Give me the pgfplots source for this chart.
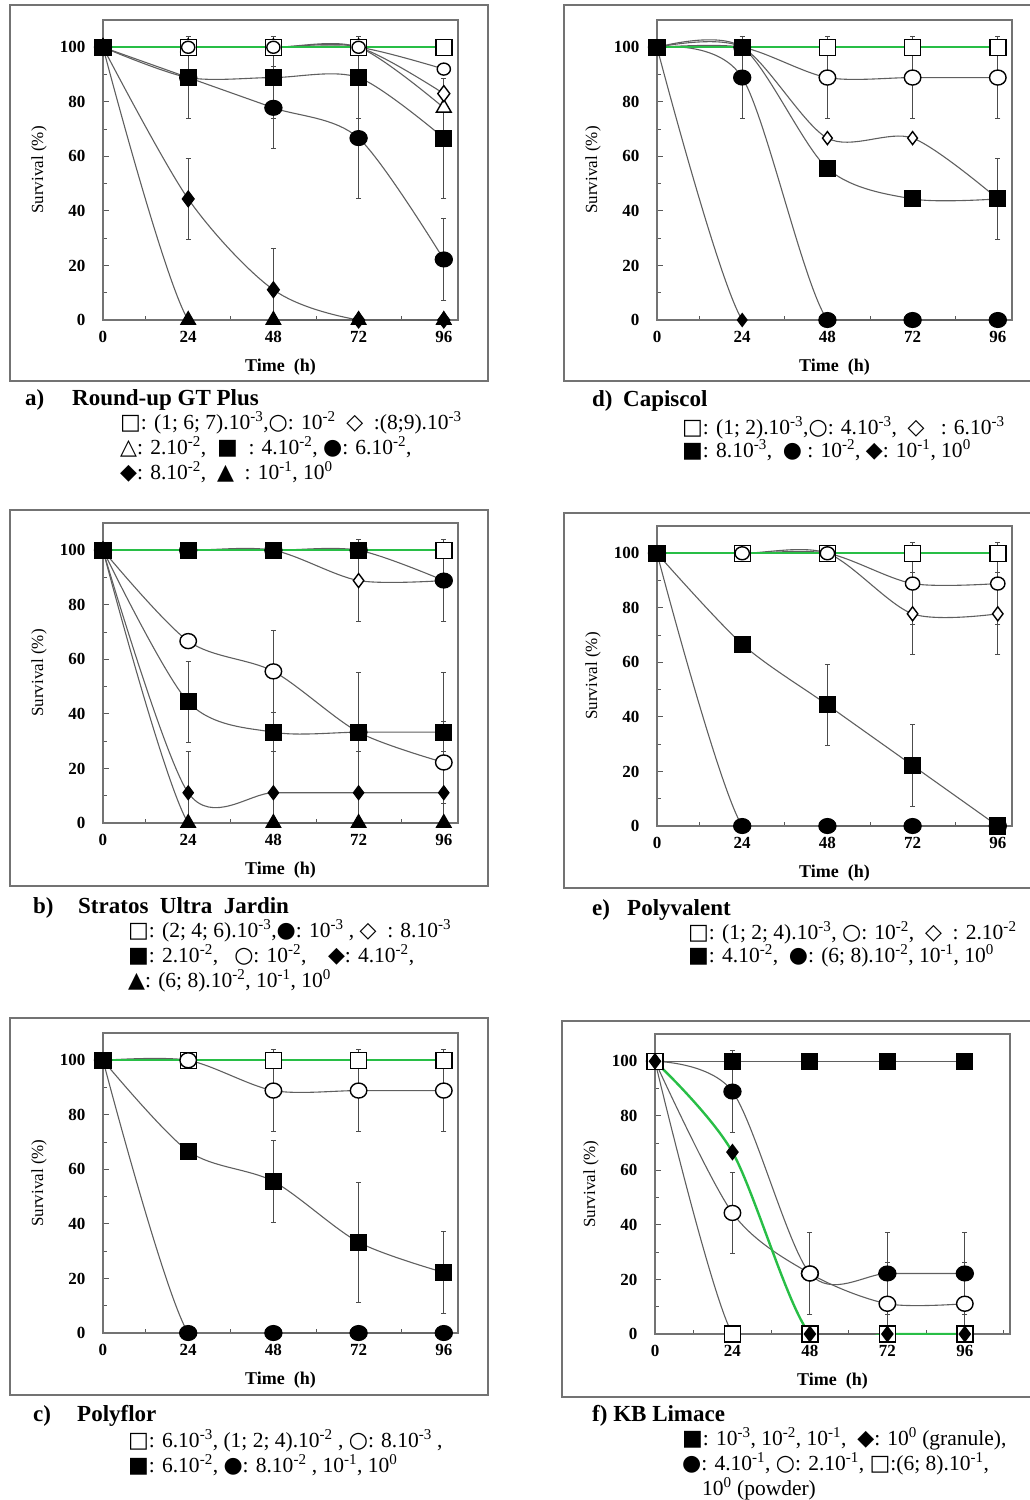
\documentclass[border=0pt]{standalone}
\usepackage{fontspec}
\setmainfont{Liberation Serif}
\newfontfamily\sym{DejaVu Sans}
\usepackage{pgfplots}
\pgfplotsset{compat=1.18}
\definecolor{grn}{RGB}{40,190,70}
\definecolor{ln}{RGB}{95,95,95}
\newcommand{\fs}[1]{\fontsize{#1}{#1}\selectfont}
\newcommand{\e}[1]{\textsuperscript{#1}}
\newcommand{\sy}[1]{{\fontsize{22}{22}\sym #1}}
\pgfplotsset{
 panel/.style={
  scale only axis, width=355pt, height=300pt,
  xmin=0, xmax=100, ymin=0, ymax=110,
  xtick={0,24,48,72,96}, ytick={0,20,40,60,80,100},
  minor xtick={12,36,60,84}, minor ytick={10,30,50,70,90},
  tick align=inside, tick pos=left,
  major tick length=6pt, minor tick length=4pt,
  tick style={black!65, line width=0.9pt},
  axis line style={black!55, line width=1.1pt},
  /pgf/number format/assume math mode=true,
  tick label style={font=\fs{17}\bfseries},
  yticklabel style={xshift=-14pt},
  xticklabel style={yshift=-8pt},
  xlabel={Time\ \ (h)},
  xlabel style={font=\fs{18}\bfseries, at={(axis description cs:0.5,-0.157)}, anchor=center},
  ylabel={Survival (\%)},
  ylabel style={font=\fs{17}, at={(axis description cs:-0.18,0.5)}, anchor=center},
  error bars/error bar style={black!70, line width=1pt},
  error bars/error mark options={rotate=90, mark size=2.5pt, black!70, line width=1pt},
 },
 s/.style={ln, line width=1.1pt, smooth, tension=0.5},
 eb/.style={error bars/.cd, y dir=both, y explicit},
 sqo/.style={s, mark=square*, mark size=8pt, mark options={fill=white, draw=black, line width=1.4pt}},
 sqf/.style={s, mark=square*, mark size=8pt, mark options={fill=black, draw=black}},
 cio/.style={s, mark=*, mark size=7.5pt, mark options={fill=white, draw=black, line width=1.4pt, xscale=1.1}},
 cif/.style={s, mark=*, mark size=7.5pt, mark options={fill=black, draw=black, xscale=1.15}},
 dio/.style={s, mark=diamond*, mark size=8pt, mark options={fill=white, draw=black, line width=1.4pt}},
 dif/.style={s, mark=diamond*, mark size=8pt, mark options={fill=black, draw=black}},
 tro/.style={s, mark=triangle*, mark size=8.5pt, mark options={fill=white, draw=black, line width=1.4pt}},
 trf/.style={s, mark=triangle*, mark size=8.5pt, mark options={fill=black, draw=black}},
 gl/.style={grn, line width=1.8pt, no marks},
}
\begin{document}
\begin{tikzpicture}
\useasboundingbox (0pt,0pt) rectangle (1029pt,-1500pt);
% frames
\draw[black!55, line width=1.2pt] (10pt,-5pt) rectangle (488pt,-381pt);
\draw[black!55, line width=1.2pt] (564pt,-5pt) rectangle (1045pt,-381pt);
\draw[black!55, line width=1.2pt] (10pt,-510pt) rectangle (488pt,-886pt);
\draw[black!55, line width=1.2pt] (564pt,-513pt) rectangle (1045pt,-888pt);
\draw[black!55, line width=1.2pt] (10pt,-1018pt) rectangle (488pt,-1395pt);
\draw[black!55, line width=1.2pt] (562pt,-1021pt) rectangle (1045pt,-1397pt);

% ---------- a) Round-up GT Plus
\begin{axis}[panel, at={(103pt,-320pt)}, anchor=south west]
\addplot[tro] coordinates {(0,100) (24,100) (48,100) (72,100) (96,77.8)};
\addplot[dio] coordinates {(0,100) (24,100) (48,100) (72,100) (96,83)};
\addplot[sqo] coordinates {(0,100) (24,100) (48,100) (72,100) (96,100)};
\addplot[cio, mark size=6pt] coordinates {(0,100) (24,100) (48,100) (72,100) (96,92)};
\addplot[dif, eb] coordinates {(0,100) +- (0,0) (24,44.4) +- (0,15) (48,11.1) +- (0,15) (72,0) +- (0,0) (96,0) +- (0,0)};
\addplot[trf] coordinates {(0,100) (24,0) (48,0) (72,0) (96,0)};
\addplot[cif, eb] coordinates {(0,100) +- (0,0) (24,88.9) +- (0,0) (48,77.8) +- (0,15) (72,66.7) +- (0,22) (96,22.2) +- (0,15)};
\addplot[sqf, eb] coordinates {(0,100) +- (0,0) (24,88.9) +- (0,15) (48,88.9) +- (0,15) (72,88.9) +- (0,15) (96,66.7) +- (0,22)};
\addplot[gl] coordinates {(0,100) (24,100) (48,100) (72,100) (96,100)};
\end{axis}

% ---------- d) Capiscol
\begin{axis}[panel, at={(657pt,-320pt)}, anchor=south west]
\addplot[sqo] coordinates {(0,100) (24,100) (48,100) (72,100) (96,100)};
\addplot[cio, eb] coordinates {(0,100) +- (0,0) (24,100) +- (0,0) (48,88.9) +- (0,15) (72,88.9) +- (0,15) (96,88.9) +- (0,15)};
\addplot[dio, mark size=6.5pt] coordinates {(0,100) (24,100) (48,66.7) (72,66.7) (96,44.4)};
\addplot[sqf, eb] coordinates {(0,100) +- (0,0) (24,100) +- (0,0) (48,55.6) +- (0,0) (72,44.4) +- (0,0) (96,44.4) +- (0,15)};
\addplot[cif, eb] coordinates {(0,100) +- (0,0) (24,88.9) +- (0,15) (48,0) +- (0,0) (72,0) +- (0,0) (96,0) +- (0,0)};
\addplot[dif, mark size=6.5pt] coordinates {(0,100) (24,0) (48,0) (72,0) (96,0)};
\addplot[gl] coordinates {(0,100) (24,100) (48,100) (72,100) (96,100)};
\end{axis}

% ---------- b) Stratos Ultra Jardin
\begin{axis}[panel, at={(103pt,-823pt)}, anchor=south west]
\addplot[sqo] coordinates {(0,100) (24,100) (48,100) (72,100) (96,100)};
\addplot[dio, mark size=7pt, eb] coordinates {(0,100) +- (0,0) (24,100) +- (0,0) (48,100) +- (0,0) (72,88.9) +- (0,15) (96,88.9) +- (0,0)};
\addplot[cif, eb] coordinates {(0,100) +- (0,0) (24,100) +- (0,0) (48,100) +- (0,0) (72,100) +- (0,0) (96,88.9) +- (0,15)};
\addplot[sqf] coordinates {(0,100) (24,100) (48,100) (72,100)};
\addplot[cio, eb] coordinates {(0,100) +- (0,0) (24,66.7) +- (0,0) (48,55.6) +- (0,15) (72,33.3) +- (0,22) (96,22.2) +- (0,15)};
\addplot[sqf, eb] coordinates {(0,100) +- (0,0) (24,44.4) +- (0,15) (48,33.3) +- (0,22) (72,33.3) +- (0,22) (96,33.3) +- (0,22)};
\addplot[dif, mark size=7pt, eb] coordinates {(0,100) +- (0,0) (24,11.1) +- (0,15) (48,11.1) +- (0,15) (72,11.1) +- (0,15) (96,11.1) +- (0,15)};
\addplot[trf] coordinates {(0,100) (24,0) (48,0) (72,0) (96,0)};
\addplot[gl] coordinates {(0,100) (24,100) (48,100) (72,100) (96,100)};
\end{axis}

% ---------- e) Polyvalent
\begin{axis}[panel, at={(657pt,-826pt)}, anchor=south west]
\addplot[dio, mark size=7pt, eb] coordinates {(0,100) +- (0,0) (24,100) +- (0,0) (48,100) +- (0,0) (72,77.8) +- (0,15) (96,77.8) +- (0,15)};
\addplot[sqo] coordinates {(0,100) (24,100) (48,100) (72,100) (96,100)};
\addplot[cio, mark size=6.5pt, eb] coordinates {(0,100) +- (0,0) (24,100) +- (0,0) (48,100) +- (0,0) (72,88.9) +- (0,15) (96,88.9) +- (0,15)};
\addplot[sqf, eb] coordinates {(0,100) +- (0,0) (24,66.7) +- (0,0) (48,44.4) +- (0,15) (72,22.2) +- (0,15) (96,0) +- (0,0)};
\addplot[cif] coordinates {(0,100) (24,0) (48,0) (72,0) (96,0)};
\addplot[gl] coordinates {(0,100) (24,100) (48,100) (72,100) (96,100)};
\end{axis}

% ---------- c) Polyflor
\begin{axis}[panel, at={(103pt,-1333pt)}, anchor=south west]
\addplot[sqo] coordinates {(0,100) (24,100) (48,100) (72,100) (96,100)};
\addplot[cio, eb] coordinates {(0,100) +- (0,0) (24,100) +- (0,0) (48,88.9) +- (0,15) (72,88.9) +- (0,15) (96,88.9) +- (0,15)};
\addplot[sqf, eb] coordinates {(0,100) +- (0,0) (24,66.7) +- (0,0) (48,55.6) +- (0,15) (72,33.3) +- (0,22) (96,22.2) +- (0,15)};
\addplot[cif] coordinates {(0,100) (24,0) (48,0) (72,0) (96,0)};
\addplot[gl] coordinates {(0,100) (24,100) (48,100) (72,100) (96,100)};
\end{axis}

% ---------- f) KB Limace
\begin{axis}[panel, xmax=110, minor xtick={12,36,60,84,108}, at={(655pt,-1334pt)}, anchor=south west]
\addplot[sqf] coordinates {(0,100) (24,100) (48,100) (72,100) (96,100)};
\addplot[cif, eb] coordinates {(0,100) +- (0,0) (24,88.9) +- (0,15) (48,22.2) +- (0,15) (72,22.2) +- (0,15) (96,22.2) +- (0,15)};
\addplot[cio, eb] coordinates {(0,100) +- (0,0) (24,44.4) +- (0,15) (48,22.2) +- (0,0) (72,11.1) +- (0,15) (96,11.1) +- (0,15)};
\addplot[sqo] coordinates {(0,100) (24,0) (48,0) (72,0) (96,0)};
\addplot[dif, mark size=6.5pt, grn, line width=2.4pt] coordinates {(0,100) (24,66.7) (48,0) (72,0) (96,0)};
\end{axis}

% ---------- captions
\begin{scope}[every node/.style={anchor=base west, inner sep=0pt}]
\node[font=\fs{23}\bfseries] at (25pt,-405pt) {a)};
\node[font=\fs{23}\bfseries] at (72pt,-405pt) {Round-up GT Plus};
\node[font=\fs{21.5}] at (120pt,-429pt) {\sy{□}: (1; 6; 7).10\e{-3},\sy{○}: 10\e{-2}\ \ \sy{◇}\ \ :(8;9).10\e{-3}};
\node[font=\fs{21.5}] at (120pt,-454pt) {\sy{△}: 2.10\e{-2},\ \ \sy{■}\ \ : 4.10\e{-2},\ \sy{●}: 6.10\e{-2},};
\node[font=\fs{21.5}] at (120pt,-479pt) {\sy{◆}: 8.10\e{-2},\ \ \sy{▲}\ \ : 10\e{-1}, 10\e{0}};

\node[font=\fs{23}\bfseries] at (592pt,-406pt) {d)};
\node[font=\fs{23}\bfseries] at (623pt,-406pt) {Capiscol};
\node[font=\fs{21.5}] at (682pt,-434pt) {\sy{□}: (1; 2).10\e{-3},\sy{○}: 4.10\e{-3},\ \ \sy{◇}\ \ \ : 6.10\e{-3}};
\node[font=\fs{21.5}] at (682pt,-457pt) {\sy{■}: 8.10\e{-3},\ \ \sy{●} : 10\e{-2},\ \sy{◆}: 10\e{-1}, 10\e{0}};

\node[font=\fs{23}\bfseries] at (33pt,-913pt) {b)};
\node[font=\fs{23}\bfseries] at (78pt,-913pt) {Stratos\ \ Ultra\ \ Jardin};
\node[font=\fs{21.5}] at (128pt,-937pt) {\sy{□}: (2; 4; 6).10\e{-3},\sy{●}: 10\e{-3} ,\ \sy{◇}\ \ : 8.10\e{-3}};
\node[font=\fs{21.5}] at (128pt,-962pt) {\sy{■}: 2.10\e{-2},\ \ \ \sy{○}: 10\e{-2},\ \ \ \ \sy{◆}: 4.10\e{-2},};
\node[font=\fs{21.5}] at (128pt,-987pt) {\sy{▲}: (6; 8).10\e{-2}, 10\e{-1}, 10\e{0}};

\node[font=\fs{23}\bfseries] at (592pt,-915pt) {e)};
\node[font=\fs{23}\bfseries] at (627pt,-915pt) {Polyvalent};
\node[font=\fs{21.5}] at (688pt,-939pt) {\sy{□}: (1; 2; 4).10\e{-3}, \sy{○}: 10\e{-2},\ \ \sy{◇}\ \ : 2.10\e{-2}};
\node[font=\fs{21.5}] at (688pt,-962pt) {\sy{■}: 4.10\e{-2},\ \ \sy{●}: (6; 8).10\e{-2}, 10\e{-1}, 10\e{0}};

\node[font=\fs{23}\bfseries] at (33pt,-1421pt) {c)};
\node[font=\fs{23}\bfseries] at (77pt,-1421pt) {Polyflor};
\node[font=\fs{21.5}] at (128pt,-1447pt) {\sy{□}: 6.10\e{-3}, (1; 2; 4).10\e{-2} ,\ \sy{○}: 8.10\e{-3} ,};
\node[font=\fs{21.5}] at (128pt,-1472pt) {\sy{■}: 6.10\e{-2},\ \sy{●}: 8.10\e{-2} , 10\e{-1}, 10\e{0}};

\node[font=\fs{23}\bfseries] at (592pt,-1421pt) {f) KB Limace};
\node[font=\fs{21.5}] at (682pt,-1445pt) {\sy{■}: 10\e{-3}, 10\e{-2}, 10\e{-1},\ \ \sy{◆}: 10\e{0} (granule),};
\node[font=\fs{21.5}] at (682pt,-1470pt) {\sy{●}: 4.10\e{-1}, \sy{○}: 2.10\e{-1},\ \sy{□}:(6; 8).10\e{-1},};
\node[font=\fs{21.5}] at (702pt,-1495pt) {10\e{0} (powder)};
\end{scope}
\end{tikzpicture}
\end{document}
